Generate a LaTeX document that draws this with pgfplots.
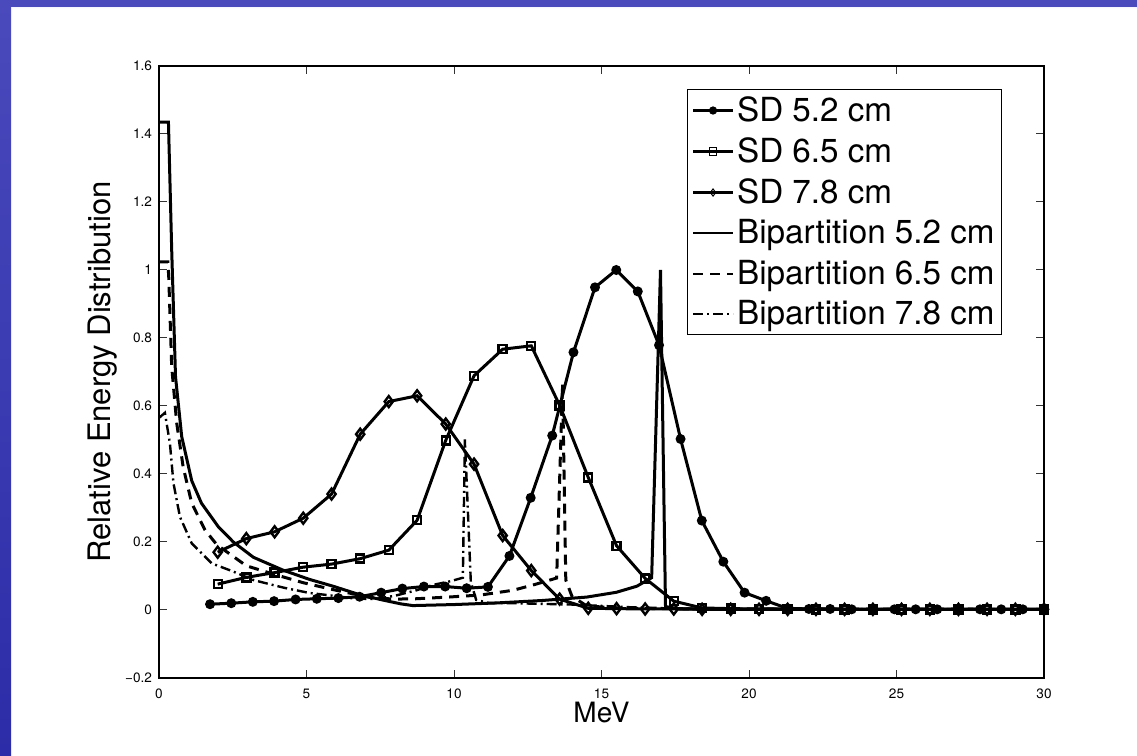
\documentclass[border=0pt]{standalone}
\usepackage{fontspec}
\setmainfont{TeX Gyre Heros}
\usepackage{pgfplots}
\pgfplotsset{compat=1.18}
\definecolor{bandtop}{RGB}{74,74,188}
\definecolor{bandmid}{RGB}{150,150,220}
\definecolor{banddark}{RGB}{44,44,168}

\begin{document}
\begin{tikzpicture}[x=1pt,y=1pt]
% slide background
\fill[white] (0,0) rectangle (568.5,378);
\shade[top color=bandtop, middle color=bandmid, bottom color=banddark] (0,0) rectangle (5.5,378);
\fill[bandtop] (0,374.5) rectangle (568.5,378);
\begin{axis}[
    at={(79.5pt,39pt)}, anchor=south west,
    scale only axis, width=442.5pt, height=306pt,
    xmin=0, xmax=30, ymin=-0.2, ymax=1.6,
    clip=false,
    axis line style={line width=0.8pt},
    tick align=inside, tick pos=both,
    major tick length=4pt,
    tick style={black!80, line width=0.5pt},
    xtick={0,5,10,15,20,25,30},
    xticklabels={0,5,10,15,20,25,30},
    ytick={-0.2,0,0.2,0.4,0.6,0.8,1,1.2,1.4,1.6},
    yticklabels={−0.2,0,0.2,0.4,0.6,0.8,1,1.2,1.4,1.6},
    ticklabel style={font=\fontsize{6.8}{8}\selectfont},
    xticklabel style={yshift=-2pt},
    xlabel={MeV},
    ylabel={Relative Energy Distribution},
    xlabel style={font=\fontsize{14}{16}\selectfont, at={(axis description cs:0.5,-0.0567)}, anchor=center},
    ylabel style={font=\fontsize{15.5}{18}\selectfont, at={(axis description cs:-0.0633,0.5)}, anchor=center},
    legend style={at={(axis cs:28.58,1.532)}, anchor=north east,
        font=\fontsize{16.6}{19}\selectfont, draw=black, line width=0.5pt,
        inner xsep=2pt, inner ysep=2.5pt, row sep=4.6pt,
        nodes={inner ysep=1pt, inner xsep=1.5pt}},
    legend cell align=left,
    legend image code/.code={\draw[mark repeat=2,mark phase=2,#1] plot coordinates {(0pt,0pt) (10pt,0pt) (20pt,0pt)};},
    legend image post style={mark size=1.8pt, line width=1.1pt, mark options={solid, line width=0.5pt}},
    every axis plot/.append style={line width=1.5pt, black},
]
% SD 5.2 cm
\addplot[mark=*, mark size=1.7pt, mark options={solid, fill=black}] coordinates {
(1.73,0.017) (2.45,0.020) (3.18,0.024) (3.90,0.026) (4.63,0.031) (5.35,0.033)
(6.08,0.035) (6.80,0.039) (7.53,0.051) (8.25,0.063) (8.98,0.069) (9.70,0.069)
(10.43,0.064) (11.15,0.068) (11.88,0.159) (12.60,0.330) (13.33,0.513) (14.05,0.758)
(14.78,0.949) (15.50,1.000) (16.23,0.937) (16.95,0.779) (17.68,0.503) (18.40,0.263)
(19.13,0.142) (19.85,0.051) (20.58,0.027) (21.30,0.005) (22.03,0.003) (22.75,0.003)
(23.48,0.002) (24.20,0.002) (24.93,0.002) (25.65,0.002) (26.38,0.002) (27.10,0.002)
(27.83,0.002) (28.55,0.002) (29.28,0.002) (30.00,0.002)
};
\addlegendentry{SD 5.2 cm}
% SD 6.5 cm
\addplot[mark=square, mark size=2pt, mark options={solid, line width=1.2pt}] coordinates {
(1.99,0.076) (2.96,0.096) (3.92,0.110) (4.89,0.126) (5.85,0.135) (6.82,0.151)
(7.79,0.176) (8.75,0.264) (9.72,0.499) (10.68,0.689) (11.65,0.767) (12.62,0.777)
(13.58,0.602) (14.55,0.390) (15.51,0.189) (16.48,0.093) (17.45,0.026) (18.41,0.006)
(19.38,0.004) (20.34,0.003) (21.31,0.003) (22.27,0.002) (23.24,0.002) (24.20,0.002)
(25.17,0.002) (26.13,0.002) (27.10,0.002) (28.07,0.002) (29.03,0.002) (30.00,0.002)
};
\addlegendentry{SD 6.5 cm}
% SD 7.8 cm
\addplot[mark=diamond, mark size=2.75pt, mark options={solid, line width=1.2pt}] coordinates {
(1.99,0.170) (2.96,0.210) (3.92,0.230) (4.89,0.270) (5.85,0.341) (6.82,0.517)
(7.79,0.613) (8.75,0.630) (9.72,0.547) (10.68,0.429) (11.65,0.219) (12.62,0.116)
(13.58,0.032) (14.55,0.005) (15.51,0.004) (16.48,0.003) (17.45,0.003) (18.41,0.002)
(19.38,0.002) (20.34,0.002) (21.31,0.002) (22.27,0.002) (23.24,0.002) (24.20,0.002)
(25.17,0.002) (26.13,0.002) (27.10,0.002) (28.07,0.002) (29.03,0.002) (30.00,0.002)
};
\addlegendentry{SD 7.8 cm}
% Bipartition 5.2 cm
\addplot[solid] coordinates {
(0,1.435) (0.32,1.435) (0.43,1.06) (0.56,0.686) (0.77,0.51) (1.11,0.38)
(1.44,0.314) (2.01,0.245) (2.52,0.200) (3.2,0.155) (4.21,0.117) (5.1,0.090)
(5.9,0.070) (6.8,0.045) (7.6,0.029) (8.2,0.018) (8.6,0.013) (10,0.016)
(11.5,0.021) (13,0.028) (14.5,0.038) (15.5,0.052) (16.2,0.070) (16.7,0.095)
(17.0,1.0) (17.17,0.01) (17.6,0.004) (18.5,0.002) (30,0.002)
};
\addlegendentry{Bipartition 5.2 cm}
% Bipartition 6.5 cm
\addplot[dash pattern=on 5pt off 3.5pt] coordinates {
(0,1.024) (0.3,1.024) (0.33,0.98) (0.43,0.716) (0.6,0.55) (0.82,0.42)
(1.11,0.314) (1.56,0.235) (1.96,0.192) (2.96,0.130) (3.9,0.105) (4.9,0.080)
(5.9,0.060) (7.2,0.036) (8.0,0.032) (8.7,0.033) (9.8,0.038) (10.9,0.044)
(12.0,0.058) (12.7,0.074) (13.48,0.094) (13.68,0.667) (13.79,0.088) (14.0,0.040)
(14.5,0.012) (15.5,0.006) (17,0.004) (18,0.003) (30,0.002)
};
\addlegendentry{Bipartition 6.5 cm}
% Bipartition 7.8 cm
\addplot[dash pattern=on 5pt off 2pt on 1pt off 2pt, line width=1.2pt] coordinates {
(0,0.565) (0.2,0.58) (0.37,0.49) (0.49,0.373) (0.71,0.274) (1.11,0.196)
(1.79,0.137) (2.52,0.113) (3.2,0.088) (4.21,0.066) (5.1,0.050) (5.9,0.042)
(6.6,0.034) (7.3,0.032) (8.0,0.042) (8.73,0.058) (9.3,0.074) (9.9,0.085)
(10.3,0.095) (10.37,0.502) (10.57,0.083) (10.75,0.030) (11.2,0.020) (12,0.020)
(13,0.018) (14,0.016) (15,0.012) (16,0.008) (18,0.004) (30,0.002)
};
\addlegendentry{Bipartition 7.8 cm}
\end{axis}
\end{tikzpicture}
\end{document}
